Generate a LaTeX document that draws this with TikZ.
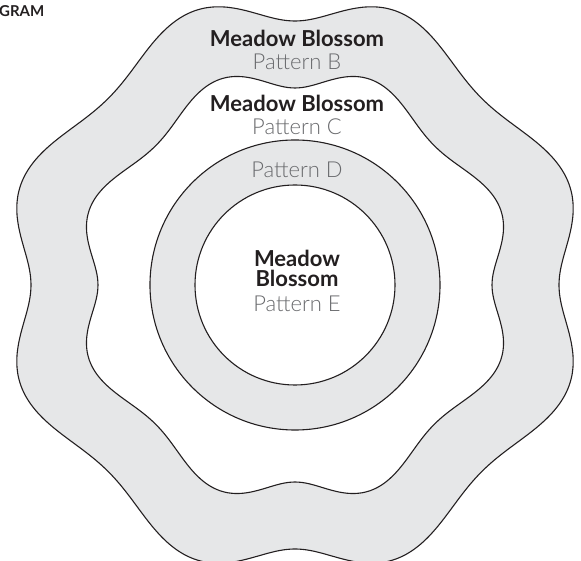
\documentclass[tikz,border=0pt]{standalone}
\usepackage{fontspec}
\setmainfont{Lato}
\newfontfamily\thinfont{Lato Light}
\usetikzlibrary{positioning}
\definecolor{PetalGray}{RGB}{230,231,232}
\definecolor{InkBlack}{RGB}{35,31,32}
\definecolor{LabelGray}{RGB}{105,106,109}
% wavy radius: base, depth, angle
\newcommand{\wavy}[3]{(#1-#2*cos(8*#3+18*sin(4*#3)))}
\begin{document}
\begin{tikzpicture}[x=1pt,y=1pt,
  ring/.style={draw=InkBlack,line width=1.1pt},
  bloom/.style={font=\fontsize{22}{20}\selectfont\bfseries,text=InkBlack,align=center,inner sep=0pt,anchor=base},
  patt/.style={font=\fontsize{22}{20}\selectfont\thinfont,text=LabelGray,inner sep=0pt,anchor=base}]
\useasboundingbox (-295,-276) rectangle (286,285);
% wavy bands and rings
\draw[ring,fill=PetalGray] plot[domain=0:358,samples=180,smooth cycle,variable=\t]
  ({\wavy{278}{14}{\t}*cos(\t)},{\wavy{278}{14}{\t}*sin(\t)});
\draw[ring,fill=white] plot[domain=0:358,samples=180,smooth cycle,variable=\t]
  ({\wavy{208}{11}{\t}*cos(\t)},{\wavy{208}{11}{\t}*sin(\t)});
\draw[ring,fill=PetalGray] (0,0) circle (145);
\draw[ring,fill=white] (0,0) circle (100);
% labels
\node[font=\fontsize{15}{15}\selectfont\bfseries,text=InkBlack,inner sep=0pt,anchor=north west] (title) at (-296,280) {GRAM};
\node[bloom] (nb) at (2,238) {Meadow Blossom};
\node[patt] (pb) at ([yshift=-23pt]nb.base) {Pattern B};
\node[bloom] (nc) at (2,173) {Meadow Blossom};
\node[patt] (pc) at ([yshift=-23pt]nc.base) {Pattern C};
\node[patt] (pd) at (2,107) {Pattern D};
\node[bloom] (ne) at (2,-2) {Meadow\\Blossom};
\node[patt] (pe) at ([yshift=-25pt]ne.base) {Pattern E};
\end{tikzpicture}
\end{document}
